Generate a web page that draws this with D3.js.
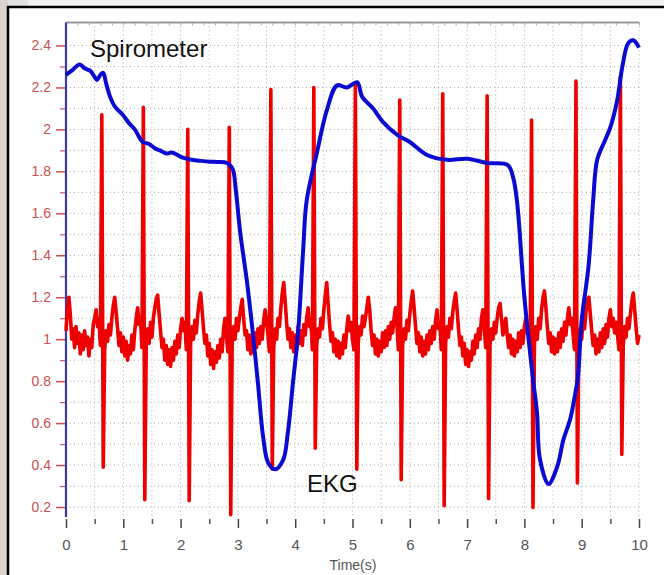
<!DOCTYPE html>
<html>
<head>
<meta charset="utf-8">
<script src="https://cdn.jsdelivr.net/npm/d3@7"></script>
<style>
  body { margin: 0; background: #fff; }
  svg { display: block; font-family: "Liberation Sans", Arial, sans-serif; }
</style>
</head>
<body>
<svg id="chart" width="664" height="575"></svg>
<script>
// spirometer trace (time in s, volume)
const spiroT = [0,0.1,0.24,0.33,0.42,0.5,0.54,0.6,0.65,0.7,0.77,0.85,0.99,1.1,1.2,1.34,1.45,1.55,1.64,1.75,1.85,2.04,2.2,2.35,2.51,2.65,2.81,2.91,2.96,3.04,3.16,3.26,3.35,3.44,3.53,3.65,3.79,3.87,3.96,4.05,4.14,4.2,4.38,4.55,4.73,4.9,5.08,5.17,5.36,5.53,5.78,6.0,6.3,6.65,7.0,7.35,7.71,7.8,7.87,8.0,8.15,8.22,8.27,8.42,8.57,8.68,8.8,8.88,8.93,9.0,9.12,9.2,9.27,9.41,9.5,9.62,9.71,9.81,9.9,10];
const spiroV = [2.26,2.28,2.31,2.29,2.28,2.25,2.235,2.26,2.27,2.22,2.155,2.11,2.07,2.03,2.0,1.94,1.93,1.91,1.9,1.885,1.89,1.865,1.855,1.85,1.846,1.845,1.84,1.81,1.72,1.51,1.27,1.03,0.79,0.535,0.41,0.38,0.425,0.55,0.79,1.03,1.43,1.66,1.89,2.09,2.21,2.2,2.225,2.155,2.1,2.036,1.974,1.94,1.878,1.855,1.86,1.84,1.83,1.775,1.66,1.2,0.81,0.65,0.43,0.31,0.39,0.52,0.62,0.73,0.81,1.09,1.35,1.66,1.855,1.95,2.01,2.14,2.3,2.41,2.425,2.39];

// EKG trace, one value every 0.025 s from 0 to 10 s
const ekgStep = 0.025;
const ekgV = [
  1.04,1.14,1.2,1.12,1.0,1.05,0.96,1.06,0.98,1.03,0.93,1.02,0.95,1.04,0.97,1.01,0.92,1.0,0.96,1.07,1.1,1.14,1.06,1.1,0.97,
  2.07,0.39,
  0.95,1.04,0.99,1.07,1.02,1.1,1.16,1.2,1.13,1.05,0.97,1.03,0.94,1.01,0.92,0.99,0.9,0.97,0.93,1.02,0.95,1.04,1.1,1.15,1.07,1.1,0.96,
  2.105,0.235,
  0.97,1.05,0.98,1.08,1.01,1.1,1.15,1.19,1.21,1.12,1.04,0.96,1.0,0.9,0.97,0.88,0.95,0.87,0.96,0.9,0.99,0.93,1.02,0.96,1.05,1.1,1.04,1.08,0.95,
  2.0,0.23,
  0.98,1.06,1.0,1.09,1.03,1.12,1.18,1.22,1.14,1.05,0.98,1.02,0.92,0.98,0.88,0.95,0.86,0.94,0.89,0.97,0.91,1.0,0.94,1.05,1.1,1.02,0.94,
  2.01,0.163,
  0.98,1.06,1.0,1.1,1.04,1.1,1.15,1.19,1.1,1.02,1.04,0.95,1.02,0.93,1.0,0.94,1.03,0.96,1.05,0.98,1.06,1.0,1.09,1.14,1.08,1.02,0.94,
  2.19,0.38,
  0.96,1.05,1.0,1.1,1.06,1.15,1.22,1.27,1.18,1.08,1.0,1.05,0.96,1.03,0.94,1.02,0.95,1.06,0.98,1.04,0.97,1.07,1.02,1.1,1.15,1.06,1.09,0.95,
  2.2,0.48,
  0.97,1.05,1.01,1.1,1.05,1.14,1.21,1.27,1.17,1.07,0.99,1.03,0.94,1.0,0.92,0.99,0.91,0.98,0.93,1.02,0.96,1.05,1.11,1.04,1.08,1.0,0.95,
  2.22,0.38,
  0.98,1.06,1.02,1.11,1.06,1.1,1.15,1.2,1.14,1.04,0.97,1.02,0.93,1.0,0.92,0.99,0.94,1.03,0.96,1.04,0.97,1.06,1.0,1.08,1.03,1.1,1.15,1.07,0.95,
  2.14,0.33,
  0.97,1.05,1.0,1.09,1.04,1.12,1.18,1.23,1.15,1.06,0.98,1.03,0.94,1.01,0.92,0.99,0.93,1.02,0.95,1.04,0.98,1.06,1.0,1.09,1.14,1.05,1.08,0.95,
  2.17,0.206,
  0.98,1.06,1.01,1.1,1.05,1.13,1.18,1.22,1.14,1.05,0.97,1.01,0.92,0.98,0.88,0.95,0.87,0.94,0.9,0.99,0.93,1.02,0.96,1.05,1.0,1.1,1.14,1.05,0.96,
  2.16,0.24,
  0.97,1.05,1.0,1.08,1.03,1.1,1.15,1.17,1.1,1.02,1.06,1.1,1.02,0.96,1.02,0.93,1.0,0.92,0.99,0.94,1.03,0.96,1.04,0.98,1.06,1.1,1.03,1.06,0.94,
  2.045,0.198,
  0.97,1.06,1.0,1.1,1.05,1.14,1.2,1.23,1.15,1.06,0.98,1.03,0.94,1.01,0.93,1.0,0.94,1.03,0.96,1.05,0.99,1.08,1.02,1.1,1.15,1.07,1.1,1.02,0.95,
  2.23,0.315,
  0.97,1.05,1.0,1.1,1.05,1.13,1.19,1.2,1.12,1.04,0.97,1.02,0.93,1.0,0.94,1.03,0.96,1.05,0.98,1.07,1.01,1.1,1.14,1.06,1.1,1.03,1.08,1.02,0.95,
  2.25,0.45,
  0.97,1.06,1.01,1.1,1.05,1.12,1.18,1.22,1.14,1.05,0.98,1.02
];

const xTicks = [0,1,2,3,4,5,6,7,8,9,10];
const xTickLabels = ["0","1","2","3","4","5","6","7","8","9","10"];
const xMinorTicks = [0.5,1.5,2.5,3.5,4.5,5.5,6.5,7.5,8.5,9.5];
const yTicks = [0.2,0.4,0.6,0.8,1,1.2,1.4,1.6,1.8,2,2.2,2.4];
const yTickLabels = ["0.2","0.4","0.6","0.8","1","1.2","1.4","1.6","1.8","2","2.2","2.4"];
const yMinorTicks = [0.3,0.5,0.7,0.9,1.1,1.3,1.5,1.7,1.9,2.1,2.3];
const xGrid = [0.5,1,1.5,2,2.5,3,3.5,4,4.5,5,5.5,6,6.5,7,7.5,8,8.5,9,9.5,10];
const yGrid = [0.2,0.3,0.4,0.5,0.6,0.7,0.8,0.9,1,1.1,1.2,1.3,1.4,1.5,1.6,1.7,1.8,1.9,2,2.1,2.2,2.3,2.4];

const svg = d3.select("#chart");
const x = d3.scaleLinear().domain([0, 10]).range([66, 639]);
const y = d3.scaleLinear().domain([0.2, 2.4]).range([507, 45.5]);

// window frame
svg.append("rect").attr("x", 0).attr("y", 0).attr("width", 8).attr("height", 575).attr("fill", "#dad6ce");
svg.append("rect").attr("x", 8).attr("y", 0).attr("width", 656).attr("height", 6).attr("fill", "#f0f0f0");
svg.append("rect").attr("x", 8).attr("y", 0).attr("width", 20).attr("height", 6).attr("fill", "#e2e2e2");
svg.append("line").attr("x1", 7).attr("x2", 664).attr("y1", 7).attr("y2", 7).attr("stroke", "#000").attr("stroke-width", 2.5);
svg.append("line").attr("x1", 8).attr("x2", 8).attr("y1", 6).attr("y2", 575).attr("stroke", "#000").attr("stroke-width", 2.5);

// grid
svg.append("g")
    .selectAll("line")
    .data(yGrid)
    .enter()
    .append("line")
        .attr("x1", x(0)).attr("x2", x(10))
        .attr("y1", d => y(d)).attr("y2", d => y(d))
        .attr("stroke", "#aaa")
        .attr("stroke-width", 1)
        .attr("stroke-dasharray", "1,3");
svg.append("g")
    .selectAll("line")
    .data(xGrid)
    .enter()
    .append("line")
        .attr("x1", d => x(d)).attr("x2", d => x(d))
        .attr("y1", y(2.51)).attr("y2", y(0.15))
        .attr("stroke", "#aaa")
        .attr("stroke-width", 1)
        .attr("stroke-dasharray", "1,3");

// top border of the plot
svg.append("line")
    .attr("x1", x(0)).attr("x2", x(10))
    .attr("y1", y(2.51)).attr("y2", y(2.51))
    .attr("stroke", "#9a9a9a").attr("stroke-width", 2);
svg.append("g")
    .attr("transform", `translate(0,${y(2.51)})`)
    .call(d3.axisBottom(x).ticks(50).tickSize(3).tickFormat(""))
    .call(g => g.select(".domain").remove())
    .selectAll("line").attr("stroke", "#a8a8a8");

// y axis
const yAxis = svg.append("g")
    .attr("transform", `translate(${x(0)},0)`)
    .call(d3.axisLeft(y).tickValues(yTicks).tickSize(9).tickPadding(5).tickFormat((d, i) => yTickLabels[i]));
yAxis.select(".domain").remove();
yAxis.selectAll("line").attr("stroke", "#d04a4a").attr("stroke-width", 1.5).attr("x2", -10).attr("x1", -1);
yAxis.selectAll("text").attr("fill", "#c85050").style("font-size", "14px").attr("x", -15);
const yMinor = svg.append("g")
    .attr("transform", `translate(${x(0)},0)`)
    .call(d3.axisLeft(y).tickValues(yMinorTicks).tickSize(6).tickFormat(""));
yMinor.select(".domain").remove();
yMinor.selectAll("line").attr("stroke", "#c85a5a").attr("stroke-width", 1.2);

svg.append("line")
    .attr("x1", x(0)).attr("x2", x(0))
    .attr("y1", y(2.51)).attr("y2", 517)
    .attr("stroke", "#3a3aa8").attr("stroke-width", 2.2);

// x axis
const xAxis = svg.append("g")
    .attr("transform", "translate(0,519)")
    .call(d3.axisBottom(x).tickValues(xTicks).tickSize(9).tickPadding(11).tickFormat((d, i) => xTickLabels[i]));
xAxis.select(".domain").remove();
xAxis.selectAll("line").attr("stroke", "#444").attr("stroke-width", 1.5);
xAxis.selectAll("text").attr("fill", "#555").style("font-size", "15px");
const xMinor = svg.append("g")
    .attr("transform", "translate(0,519)")
    .call(d3.axisBottom(x).tickValues(xMinorTicks).tickSize(5).tickFormat(""));
xMinor.select(".domain").remove();
xMinor.selectAll("line").attr("stroke", "#555").attr("stroke-width", 1.5);

svg.append("text")
    .attr("x", 353).attr("y", 570)
    .attr("text-anchor", "middle")
    .attr("fill", "#555")
    .style("font-size", "14px")
    .text("Time(s)");

// traces
const ekgLine = d3.line()
    .x((d, i) => x(i * ekgStep))
    .y(d => y(d));
svg.append("path")
    .datum(ekgV)
    .attr("d", ekgLine)
    .attr("fill", "none")
    .attr("stroke", "#ee0000")
    .attr("stroke-width", 3.6)
    .attr("stroke-linejoin", "round");

const spiroLine = d3.line()
    .x((d, i) => x(spiroT[i]))
    .y(d => y(d))
    .curve(d3.curveCatmullRom);
svg.append("path")
    .datum(spiroV)
    .attr("d", spiroLine)
    .attr("fill", "none")
    .attr("stroke", "#0a0ad0")
    .attr("stroke-width", 4)
    .attr("stroke-linejoin", "round");

// labels
svg.append("text")
    .attr("x", 90).attr("y", 57)
    .attr("fill", "#111")
    .style("font-size", "24px")
    .text("Spirometer");
svg.append("text")
    .attr("x", 307).attr("y", 492)
    .attr("fill", "#111")
    .style("font-size", "24px")
    .text("EKG");
</script>
</body>
</html>
